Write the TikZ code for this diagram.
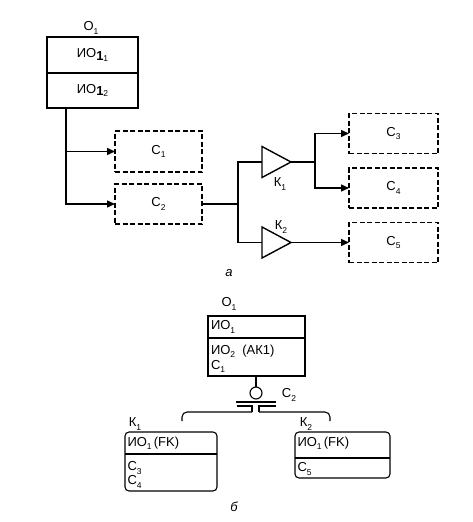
\documentclass[tikz,border=0pt]{standalone}
\usepackage{fontspec}
\setmainfont{Liberation Sans}
\usetikzlibrary{arrows.meta}
\newcommand\sbs[1]{\raisebox{-0.45ex}{\fontsize{8.5}{9}\selectfont #1}}
\newcommand\bsub[1]{\raisebox{-0.3ex}{\textbf{#1}}}
\begin{document}
\begin{tikzpicture}[x=1pt,y=-1pt,
  every node/.style={font=\fontsize{13}{15}\selectfont, inner sep=0pt, outer sep=0pt},
  sbox/.style={draw, line width=1.4pt},
  dbox/.style={draw, line width=1.3pt, dash pattern=on 5pt off 2.5pt},
  thin box/.style={draw, line width=1.1pt},
  rbox/.style={draw, line width=1.1pt, rounded corners=4pt},
  conn/.style={line width=1.4pt},
  arr/.style={line width=1.4pt, -{Triangle[length=8pt,width=7pt]}},
  lbl/.style={},
  thinline/.style={line width=1.1pt}]
\useasboundingbox (0,0) rectangle (472,522);

% ---------- part a ----------
\node[lbl] (o1a) at (91,28) {О\sbs{1}};
\node[sbox, minimum width=91, minimum height=36] (io11) at (92.5,55) {ИО\bsub{1}\sbs{1}};
\node[sbox, minimum width=91, minimum height=35] (io12) at (92.5,90.5) {ИО\bsub{1}\sbs{2}};

\node[dbox, minimum width=87, minimum height=41] (c1) at (158.5,151.5) {С\sbs{1}};
\node[dbox, minimum width=87, minimum height=40] (c2) at (158.5,204) {С\sbs{2}};
\node[dbox, minimum width=89, minimum height=40] (c3) at (393.5,133.5) {С\sbs{3}};
\node[dbox, minimum width=89, minimum height=40] (c4) at (393.5,188) {С\sbs{4}};
\node[dbox, minimum width=89, minimum height=40] (c5) at (393.5,242.5) {С\sbs{5}};

\coordinate (o1out) at (66,108);
\coordinate (j1) at (66,151.5);
\draw[conn] (o1out) -- (j1);
\draw[arr] (j1) -- (c1.west);
\draw[arr] (j1) |- (c2.west);

% amplifiers K1, K2
\coordinate (k1w) at (262,162);
\coordinate (k1e) at (291,162);
\coordinate (k2w) at (262,242.5);
\coordinate (k2e) at (291,242.5);
\draw[conn, line join=miter] (262,146.5) -- (k1e) -- (262,177.5) -- cycle;
\draw[conn, line join=miter] (262,227) -- (k2e) -- (262,258) -- cycle;
\node[lbl] (k1l) at (280,184) {К\sbs{1}};
\node[lbl] (k2l) at (281,227) {К\sbs{2}};

\coordinate (j2) at (238,204);
\coordinate (j2t) at (238,162);
\coordinate (j2b) at (238,242.5);
\draw[conn] (c2.east) -- (j2);
\draw[conn] (k1w) -- (j2t) -- (j2b) -- (k2w);

\coordinate (j3) at (315,162);
\draw[conn] (k1e) -- (j3);
\draw[arr] (j3) |- (c3.west);
\draw[arr] (j3) |- (c4.west);
\draw[arr] (k2e) -- (c5.west);

\node[lbl] (la) at (229,273) {\itshape а};

% ---------- part b ----------
\node[lbl] (o1b) at (229,304) {О\sbs{1}};
\node[thin box, minimum width=97, minimum height=22] (b1) at (256.5,327) {};
\node[thin box, minimum width=97, minimum height=38] (b2) at (256.5,357) {};
\node[lbl, anchor=west] (t1) at (211,327) {ИО\sbs{1}};
\node[lbl, anchor=west] (t2) at (211,351.5) {ИО\sbs{2}\ \ (АК1)};
\node[lbl, anchor=west] (t3) at (211,366.5) {С\sbs{1}};

\node[circle, draw, thinline, minimum size=12pt] (circ) at (256,393) {};
\draw[thinline] (b2.south -| circ) -- (circ.north);
\coordinate (l1a) at (236,402);
\coordinate (l1b) at (276,402);
\draw[thinline] (l1a) -- (l1b);
\coordinate (l2a) at (237,406);
\coordinate (l2b) at (276,406);
\coordinate (ka) at (252,412);
\coordinate (kb) at (259,412);
\coordinate (kl) at (182,421);
\coordinate (kr) at (330,421);
\draw[thinline] (l2a) -| (ka);
\draw[thinline] (l2b) -| (kb);
\draw[thinline, rounded corners=5pt] (ka) -- (kl |- ka) -- (kl);
\draw[thinline, rounded corners=5pt] (kb) -- (kr |- kb) -- (kr);
\node[lbl] (c2l) at (289,395) {С\sbs{2}};

\node[lbl] (k1b) at (135,424) {К\sbs{1}};
\node[lbl] (k2b) at (306,424) {К\sbs{2}};

\node[rbox, minimum width=92, minimum height=59] (kb1) at (171,461.5) {};
\draw[thinline] (kb1.west |- 0,454) -- (kb1.east |- 0,454);
\node[lbl, anchor=west] (u1) at (127.5,443.5) {ИО\sbs{1}\,(FK)};
\node[lbl, anchor=west] (u2) at (127.5,468) {С\sbs{3}};
\node[lbl, anchor=west] (u3) at (127.5,482) {С\sbs{4}};

\node[rbox, minimum width=95, minimum height=46] (kb2) at (342.5,455) {};
\draw[thinline] (kb2.west |- 0,458) -- (kb2.east |- 0,458);
\node[lbl, anchor=west] (v1) at (297.5,443.5) {ИО\sbs{1}\,(FK)};
\node[lbl, anchor=west] (v2) at (297.5,469) {С\sbs{5}};

\node[lbl] (lb) at (234,507) {\itshape б};
\end{tikzpicture}
\end{document}
